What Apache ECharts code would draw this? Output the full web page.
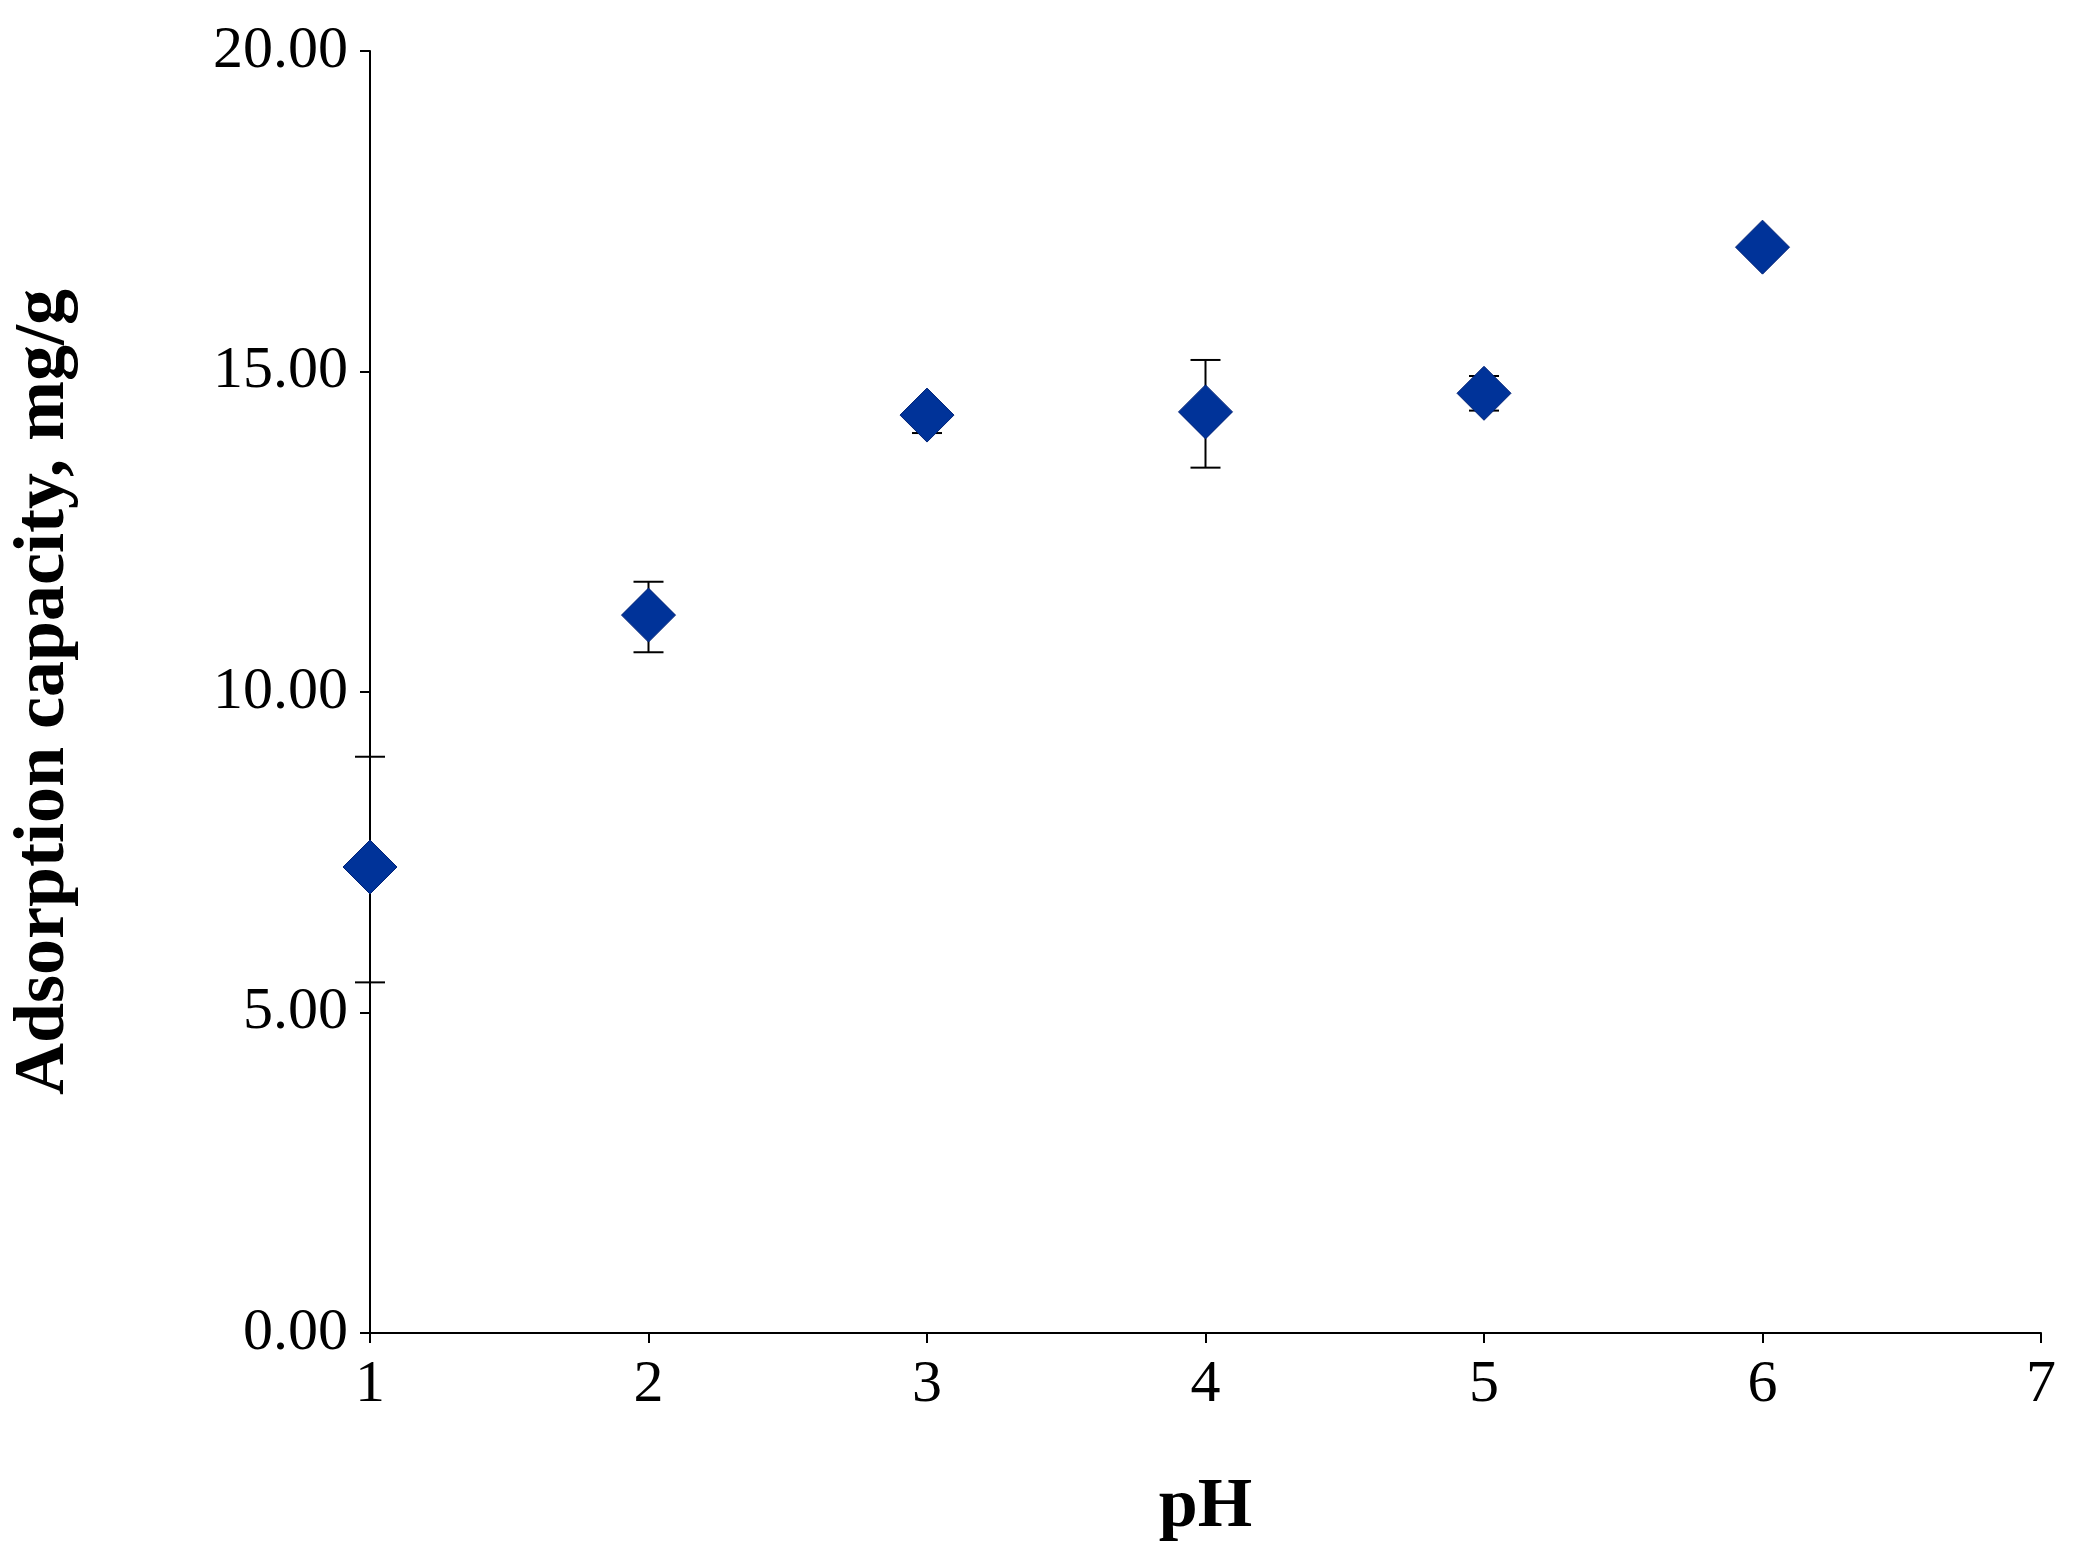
<!DOCTYPE html>
<html><head><meta charset="utf-8">
<script src="https://cdn.jsdelivr.net/npm/echarts@6/dist/echarts.min.js"></script>
<style>html,body{margin:0;padding:0;background:#fff}#c{width:2080px;height:1568px}</style>
</head><body><div id="c"></div>
<script>
var ph = [1, 2, 3, 4, 5, 6];
var capacity = [7.27, 11.2, 14.32, 14.37, 14.66, 16.94];
var errLow = [5.47, 10.62, 14.04, 13.5, 14.39, 16.94];
var errHigh = [8.99, 11.72, 14.5, 15.18, 14.93, 16.94];
var yTicks = ['0.00', '5.00', '10.00', '15.00', '20.00'];

var chart = echarts.init(document.getElementById('c'));
var font = 'Liberation Serif';
chart.setOption({
  animation: false,
  grid: {left: 360, right: 39, top: 51, bottom: 235},
  xAxis: {
    type: 'value', min: 1, max: 7, interval: 1,
    name: 'pH', nameLocation: 'middle', nameGap: 140,
    nameTextStyle: {fontFamily: font, fontSize: 70, fontWeight: 'bold', color: '#000'},
    axisLine: {lineStyle: {color: '#000', width: 2}},
    axisTick: {show: true, length: 10, lineStyle: {color: '#000', width: 2}},
    axisLabel: {fontFamily: font, fontSize: 60, color: '#000', margin: 22},
    splitLine: {show: false}
  },
  yAxis: {
    type: 'value', min: 0, max: 20, interval: 5,
    name: 'Adsorption capacity, mg/g', nameLocation: 'middle', nameGap: 290,
    nameTextStyle: {fontFamily: font, fontSize: 72, fontWeight: 'bold', color: '#000'},
    axisLine: {show: true, lineStyle: {color: '#000', width: 2}},
    axisTick: {show: true, length: 10, lineStyle: {color: '#000', width: 2}},
    axisLabel: {fontFamily: font, fontSize: 60, color: '#000', margin: 22,
      formatter: function (v) { return yTicks[v / 5]; }},
    splitLine: {show: false}
  },
  series: [{
    type: 'custom',
    data: ph.map(function (x, i) { return [x, errLow[i], errHigh[i]]; }),
    renderItem: function (params, api) {
      if (api.value(1) === api.value(2)) return {type: 'group', children: []};
      var lo = api.coord([api.value(0), api.value(1)]);
      var hi = api.coord([api.value(0), api.value(2)]);
      var w = 15;
      var st = {stroke: '#000', lineWidth: 2};
      return {type: 'group', children: [
        {type: 'line', shape: {x1: lo[0], y1: lo[1], x2: hi[0], y2: hi[1]}, style: st},
        {type: 'line', shape: {x1: lo[0] - w, y1: lo[1], x2: lo[0] + w, y2: lo[1]}, style: st},
        {type: 'line', shape: {x1: hi[0] - w, y1: hi[1], x2: hi[0] + w, y2: hi[1]}, style: st}
      ]};
    },
    z: 1
  }, {
    type: 'scatter',
    data: ph.map(function (x, i) { return [x, capacity[i]]; }),
    symbol: 'diamond', symbolSize: [54, 54],
    itemStyle: {color: '#003399', opacity: 1, borderColor: '#002277', borderWidth: 1},
    z: 2
  }]
});
</script></body></html>
